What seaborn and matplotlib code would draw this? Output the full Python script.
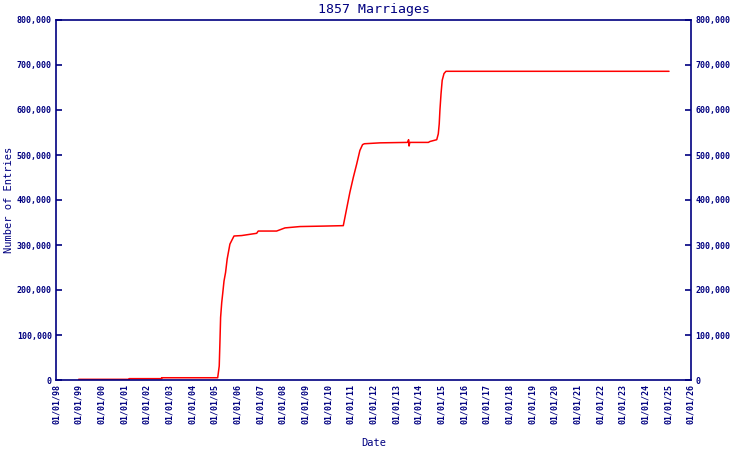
import matplotlib
matplotlib.use("Agg")
import matplotlib.pyplot as plt
import matplotlib.dates as mdates
from matplotlib.ticker import FuncFormatter, MultipleLocator
import pandas as pd
import seaborn as sns

dates = [
    "1999-01-01", "2001-03-25", "2001-03-26", "2002-08-28", "2002-08-29",
    "2005-02-17", "2005-03-14", "2005-03-25", "2005-04-05", "2005-04-23",
    "2005-05-08", "2005-05-30", "2005-06-24", "2005-07-20", "2005-09-02",
    "2005-10-01", "2005-11-07", "2006-03-11", "2006-11-07", "2006-12-02",
    "2007-09-24", "2008-02-06", "2008-10-05", "2009-10-16", "2010-09-02",
    "2010-12-17", "2011-02-10", "2011-04-06", "2011-05-27", "2011-07-09",
    "2011-08-07", "2012-04-16", "2013-07-02", "2013-07-20", "2013-07-27",
    "2013-08-08", "2014-06-03", "2014-06-28", "2014-10-16", "2014-11-10",
    "2014-11-25", "2014-12-06", "2014-12-24", "2015-01-12", "2015-02-10",
    "2015-03-14", "2025-01-12",
]
entries = [
    1500, 1500, 3000, 3000, 5000,
    5000, 31000, 83000, 139000, 172000,
    191000, 220000, 239000, 269000, 302000,
    310000, 320000, 321000, 326000, 331000,
    331000, 338000, 341000, 342000, 343000,
    417000, 450000, 480000, 510000, 523000,
    525000, 527000, 528000, 534000, 520000,
    528000, 528000, 530000, 534000, 547000,
    569000, 599000, 636000, 666000, 681000,
    686000, 686000,
]
title = "1857 Marriages"
x_label = "Date"
y_label = "Number of Entries"

df = pd.DataFrame({"Date": pd.to_datetime(dates), "Entries": entries})

sns.set_style("white")
plt.rcParams["font.family"] = ["DejaVu Sans Mono"]
navy = "#000080"

fig = plt.figure(figsize=(7.5, 4.5), dpi=100)
ax = fig.add_axes([56 / 750, 1 - 380 / 450, (691 - 56) / 750, (380 - 20) / 450])
sns.lineplot(data=df, x="Date", y="Entries", ax=ax, color="#ff0000",
             linewidth=1.1, estimator=None, sort=False)

ax.set_xlim(pd.Timestamp("1998-01-01"), pd.Timestamp("2026-01-01"))
ax.set_ylim(0, 800000)
ax.xaxis.set_major_locator(mdates.YearLocator(1))
ax.xaxis.set_major_formatter(mdates.DateFormatter("%m/%d/%y"))
ax.yaxis.set_major_locator(MultipleLocator(100000))
fmt = FuncFormatter(lambda v, p: f"{int(v):,}")
ax.yaxis.set_major_formatter(fmt)

for s in ax.spines.values():
    s.set_color(navy)
    s.set_linewidth(1.2)
    s.set_visible(True)

ax.tick_params(axis="both", direction="in", length=4, width=1.2, color=navy,
               labelcolor=navy, labelsize=6)
ax.tick_params(axis="x", labelrotation=90, pad=3)
ax.tick_params(axis="y", pad=3)
for lbl in ax.get_xticklabels() + ax.get_yticklabels():
    lbl.set_fontweight("bold")

ax2 = ax.twinx()
ax2.set_ylim(0, 800000)
ax2.yaxis.set_major_locator(MultipleLocator(100000))
ax2.yaxis.set_major_formatter(fmt)
ax2.tick_params(axis="y", direction="in", length=4, width=1.2, color=navy,
                labelcolor=navy, labelsize=6, pad=3)
for lbl in ax2.get_yticklabels():
    lbl.set_fontweight("bold")
for s in ax2.spines.values():
    s.set_visible(False)

ax.set_title(title, color=navy, fontsize=9.5, pad=5)
ax.set_xlabel(x_label, color=navy, fontsize=7.5, labelpad=10)
ax.set_ylabel(y_label, color=navy, fontsize=7.5, labelpad=2)
ax.grid(False)

fig.savefig("out.png", dpi=100)
